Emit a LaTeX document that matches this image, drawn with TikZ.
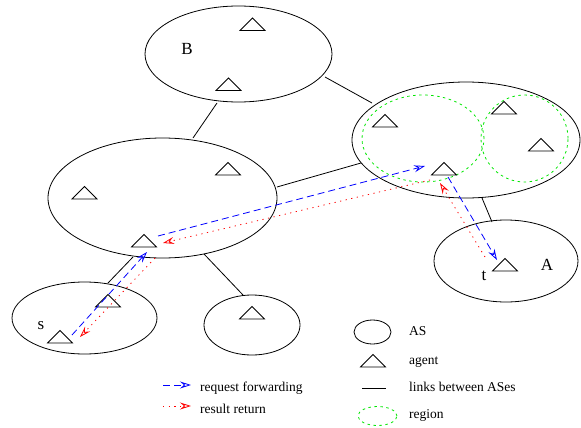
\documentclass[tikz,border=0pt]{standalone}
\usepackage{fontspec}
\setmainfont{Liberation Serif}
\usetikzlibrary{shapes.geometric,arrows.meta,calc}
\definecolor{rblue}{RGB}{0,0,255}
\definecolor{rred}{RGB}{255,0,0}
\definecolor{rgreen}{RGB}{0,230,0}
\tikzset{
  asnode/.style={draw,ellipse,line width=0.8pt,inner sep=0pt},
  regionnode/.style={draw=rgreen,ellipse,line width=0.8pt,inner sep=0pt,dash pattern=on 2.5pt off 3.5pt},
  link/.style={line width=0.8pt},
  reqarrow/.style={draw=rblue,line width=0.8pt,dash pattern=on 7pt off 4pt,-{Stealth[open,length=11pt,width=7pt,inset=4pt]}},
  retarrow/.style={draw=rred,line width=0.8pt,dash pattern=on 1.2pt off 4.5pt,-{Stealth[open,length=11pt,width=7pt,inset=4pt]}},
  biglabel/.style={font=\fontsize{17}{17}\selectfont,inner sep=0pt},
  legtext/.style={font=\fontsize{13.5}{13.5}\selectfont,anchor=west,inner sep=0pt},
}
\newcommand\agentat[2]{\coordinate (#1) at #2;
  \draw[line width=0.8pt] (#1) +(-12.5,0) -- +(0,-12.5) -- +(12.5,0) -- cycle;}
\begin{document}
\begin{tikzpicture}[x=1pt,y=-1pt]
\useasboundingbox (0,0) rectangle (581,428);
% ASes
\node[asnode,minimum width=187pt,minimum height=96pt] (B) at (238.5,54) {};
\node[asnode,minimum width=229pt,minimum height=120pt] (L) at (162.5,198) {};
\node[asnode,minimum width=228pt,minimum height=116pt] (R) at (466,140) {};
\node[asnode,minimum width=144pt,minimum height=82pt] (A) at (506,261) {};
\node[asnode,minimum width=145pt,minimum height=72pt] (S) at (84.5,318) {};
\node[asnode,minimum width=96pt,minimum height=60pt] (M) at (252,325) {};
% regions
\node[regionnode,minimum width=122pt,minimum height=87pt] (G1) at (423,138.5) {};
\node[regionnode,minimum width=87pt,minimum height=87pt] (G2) at (524.5,138.5) {};
% links
\coordinate (l1a) at (217,103); \coordinate (l1b) at (193,138);
\coordinate (l2a) at (325,77); \coordinate (l2b) at (372,103);
\coordinate (l3a) at (277,187); \coordinate (l3b) at (361,163);
\coordinate (l4a) at (482,198); \coordinate (l4b) at (492,222);
\coordinate (l5a) at (133,257); \coordinate (l5b) at (108,283);
\coordinate (l6a) at (204,254); \coordinate (l6b) at (243,295);
\draw[link] (l1a) -- (l1b);
\draw[link] (l2a) -- (l2b);
\draw[link] (l3a) -- (l3b);
\draw[link] (l4a) -- (l4b);
\draw[link] (l5a) -- (l5b);
\draw[link] (l6a) -- (l6b);
% agents
\agentat{b1}{(252.5,30.5)}
\agentat{b2}{(228.5,90.5)}
\agentat{al1}{(84.5,199)}
\agentat{al2}{(228,175)}
\agentat{al3}{(144,247)}
\agentat{as}{(60,343)}
\agentat{as2}{(108,307)}
\agentat{am}{(252,319)}
\agentat{ar1}{(385,127)}
\agentat{ar2}{(444,175)}
\agentat{ar3}{(504,114)}
\agentat{ar4}{(541,151)}
\agentat{aA}{(505,271)}
% labels
\node[biglabel] (lB) at (187,49) {B};
\node[biglabel] (ls) at (41,326) {s};
\node[biglabel] (lt) at (484,276) {t};
\node[biglabel] (lA) at (547,265) {A};
% arrows
\draw[reqarrow] ($(as)+(12,-8)$) -- ($(al3)+(3,5)$);
\draw[reqarrow] ($(al3)+(14,-11)$) -- ($(ar2)+(-19,-9)$);
\draw[reqarrow] ($(ar2)+(4,2)$) -- ($(aA)+(-8,-11)$);
\draw[retarrow] ($(ar2)+(-14,5)$) -- ($(al3)+(19,-4)$);
\draw[retarrow] ($(al3)+(11,11)$) -- ($(as)+(20,-6)$);
\draw[retarrow] ($(aA)+(-20,-14)$) -- ($(ar2)+(-4,8)$);
% legend
\node[asnode,minimum width=37pt,minimum height=24pt] (legAS) at (372.5,332) {};
\node[legtext] (tAS) at (409,331) {AS};
\agentat{legag}{(373,367)}
\node[legtext] (tag) at (409,362) {agent};
\coordinate (lk1) at (362,388); \coordinate (lk2) at (386,388);
\draw[link] (lk1) -- (lk2);
\node[legtext] (tlk) at (409,387) {links between ASes};
\node[regionnode,minimum width=39pt,minimum height=19pt] (legreg) at (377.5,416) {};
\node[legtext] (treg) at (409,415) {region};
\coordinate (rq1) at (163,385); \coordinate (rq2) at (191,385);
\draw[reqarrow] (rq1) -- (rq2);
\node[legtext] (trq) at (200,388) {request forwarding};
\coordinate (rt1) at (163,406); \coordinate (rt2) at (191,406);
\draw[retarrow] (rt1) -- (rt2);
\node[legtext] (trt) at (200,409) {result return};
\end{tikzpicture}
\end{document}
